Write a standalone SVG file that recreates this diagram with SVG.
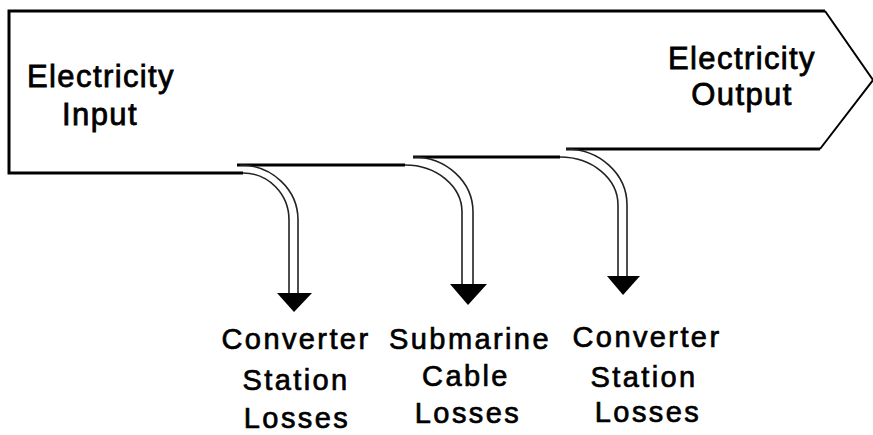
<svg xmlns="http://www.w3.org/2000/svg" width="873" height="435" viewBox="0 0 873 435">
<style>
.edge{fill:none;stroke:#000;stroke-width:3}
.chev{fill:none;stroke:#000;stroke-width:2}
.dbl{fill:none;stroke:#222;stroke-width:1.6}
.head{fill:#000}
.t{font-family:"Liberation Sans",Arial,sans-serif;font-size:31px;text-anchor:middle;fill:#000;stroke:#000;stroke-width:0.8;letter-spacing:1.4px}
.l{font-family:"Liberation Sans",Arial,sans-serif;font-size:29px;text-anchor:middle;fill:#000;stroke:#000;stroke-width:0.7;letter-spacing:2.4px}
</style>
<rect width="873" height="435" fill="#fff"/>
<g id="flow">
<path class="edge" d="M243,173 H9 V11 H825"/>
<path class="chev" d="M825,11 L873,80 L820,149"/>
<path class="edge" d="M237,165 H405"/>
<path class="edge" d="M413,157 H560"/>
<path class="edge" d="M566,149 H820"/>
<text class="t" x="101" y="87">Electricity</text>
<text class="t" x="100" y="125">Input</text>
<text class="t" x="742" y="69">Electricity</text>
<text class="t" x="742" y="105">Output</text>
</g>
<g id="connectors">
<path class="dbl" d="M240,165 A58,55 0 0 1 298,220 V294"/>
<path class="dbl" d="M243,173 A46,47 0 0 1 289,220 V294"/>
<polygon class="head" points="277,293 312,293 294,312"/>
<path class="dbl" d="M413,157 A60,55 0 0 1 473,212 V285"/>
<path class="dbl" d="M405,165 A57,47 0 0 1 462,212 V285"/>
<polygon class="head" points="450,284 487,284 468,305"/>
<path class="dbl" d="M566,149 A61,56 0 0 1 627,205 V277"/>
<path class="dbl" d="M560,157 A58,48 0 0 1 618,205 V277"/>
<polygon class="head" points="607,276 640,276 623,295"/>
</g>
<g id="loss1">
<text class="l" x="296" y="349">Converter</text>
<text class="l" x="296" y="390">Station</text>
<text class="l" x="297" y="428">Losses</text>
</g>
<g id="loss2">
<text class="l" x="470" y="349">Submarine</text>
<text class="l" x="466" y="386">Cable</text>
<text class="l" x="468" y="423">Losses</text>
</g>
<g id="loss3">
<text class="l" x="647" y="347">Converter</text>
<text class="l" x="644" y="387">Station</text>
<text class="l" x="648" y="422">Losses</text>
</g>
</svg>
